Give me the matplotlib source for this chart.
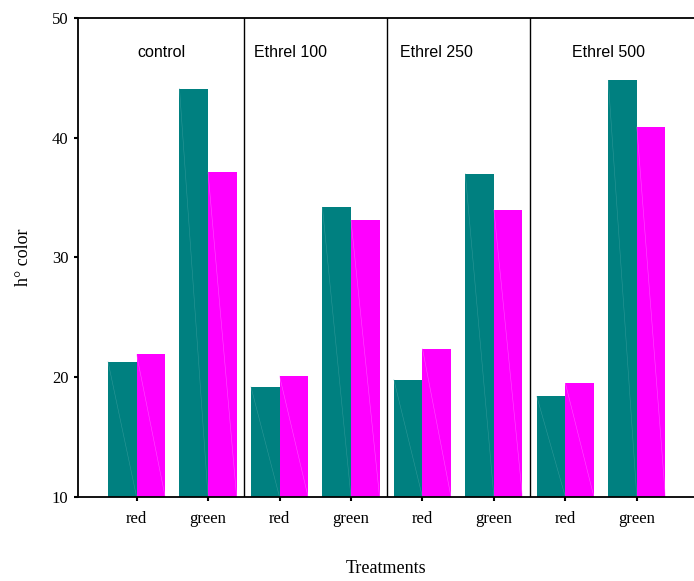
import matplotlib
matplotlib.use("Agg")
import matplotlib.pyplot as plt
import numpy as np

groups = ["control", "Ethrel 100", "Ethrel 250", "Ethrel 500"]
tick_labels = ["red", "green"] * 4
teal_vals = [21.3, 44.1, 19.2, 34.2, 19.8, 37.0, 18.4, 44.8]
magenta_vals = [21.9, 37.1, 20.1, 33.1, 22.4, 34.0, 19.5, 40.9]

teal = "#008080"
magenta = "#ff00ff"
serif = ["Liberation Serif", "DejaVu Serif"]

fig = plt.figure(figsize=(6.94, 5.81), dpi=100)
ax = fig.add_axes([0.1124, 0.1446, 0.8876, 0.8244])

x = np.arange(len(tick_labels))
w = 0.4
ax.bar(x - w / 2, np.array(teal_vals) - 10, w, bottom=10, color=teal, linewidth=0)
ax.bar(x + w / 2, np.array(magenta_vals) - 10, w, bottom=10, color=magenta, linewidth=0)

# faint diagonal artefacts seen in the original bars
for xi, t, m in zip(x, teal_vals, magenta_vals):
    ax.plot([xi - w, xi], [t, 10], color="#4aa6a6", lw=0.4, alpha=0.6)
    ax.plot([xi, xi + w], [m, 10], color="#ff80ff", lw=0.4, alpha=0.6)

ax.set_xlim(-0.82, 7.8)
ax.set_ylim(10, 50)
ax.set_yticks([10, 20, 30, 40, 50])
ax.set_xticks(x)
ax.set_xticklabels(tick_labels, fontfamily=serif, fontsize=12)
for lab in ax.get_yticklabels():
    lab.set_fontfamily(serif)
    lab.set_fontsize(12)
ax.tick_params(axis="x", direction="out", length=3, width=1.5, pad=7)
ax.tick_params(axis="y", direction="out", length=3, width=1.5, pad=4)

ax.spines["right"].set_visible(False)
for s in ["left", "bottom", "top"]:
    ax.spines[s].set_linewidth(1.3)

for d in [1.5, 3.5, 5.5]:
    ax.axvline(d, color="black", lw=1)

label_x = [0.35, 2.16, 4.19, 6.6]
for g, lx in zip(groups, label_x):
    ax.text(lx, 47.1, g, ha="center", va="center",
            fontfamily=["Liberation Sans", "DejaVu Sans"], fontsize=11.5)

ax.set_ylabel("h° color", fontfamily=serif, fontsize=13, labelpad=14)
ax.set_xlabel("Treatments", fontfamily=serif, fontsize=13, labelpad=24)

fig.savefig("out.png", dpi=100)
